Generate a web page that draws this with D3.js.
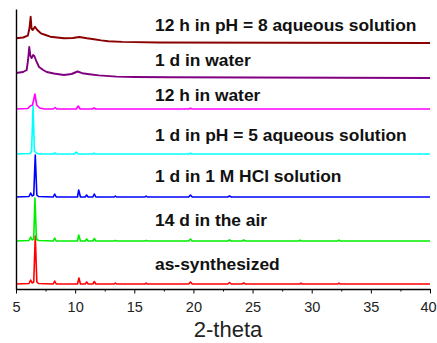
<!DOCTYPE html>
<html>
<head>
<meta charset="utf-8">
<script src="https://cdn.jsdelivr.net/npm/d3@7"></script>
<style>
  body { margin: 0; background: #fff; }
  svg { display: block; }
</style>
</head>
<body>
<svg id="chart" width="437" height="343"></svg>
<script>
// sample names, bottom to top
const sampleNames = [
  "as-synthesized",
  "14 d in the air",
  "1 d in 1 M HCl solution",
  "1 d in pH = 5 aqueous solution",
  "12 h in water",
  "1 d in water",
  "12 h in pH = 8 aqueous solution"
]

// stacking offset of each trace (intensity units)
const offsets = [5, 48, 92, 135, 180, 211, 246]

// [2-theta, intensity]
const asSynthesized = [[5,0],[6.1,0.5],[6.24,4],[6.36,1],[6.5,2],[6.63,48],[6.76,2],[6.9,0.5],[8.15,0],[8.27,3],[8.4,0],
  [10.2,0],[10.32,6],[10.45,0],[10.85,0],[10.97,2],[11.1,0],[11.5,0],[11.62,2.5],[11.75,0],[13.3,0],[13.4,1],[13.5,0],
  [15.9,0],[16,0.8],[16.1,0],[19.6,0],[19.75,2],[19.9,0],[22.9,0],[23.05,1.5],[23.2,0],[24.1,0],[24.25,1],[24.4,0],
  [29,0],[29.1,0.8],[29.2,0],[32.2,0],[32.3,1],[32.4,0],[40,0]]
const air14d = [[5,0],[6.1,0.5],[6.24,4],[6.36,1],[6.5,2],[6.6,43],[6.73,2],[6.9,0.5],[8.15,0],[8.27,3],[8.4,0],
  [10.2,0],[10.3,6],[10.45,0],[10.85,0],[10.97,2],[11.1,0],[11.5,0],[11.62,2.5],[11.75,0],[13.3,0],[13.4,0.6],[13.5,0],
  [15.9,0],[16,0.6],[16.1,0],[19.6,0],[19.75,2],[19.9,0],[22.9,0],[23.05,1.2],[23.2,0],[24.1,0],[24.25,1],[24.4,0],
  [28.9,0],[29,0.8],[29.1,0],[32.2,0],[32.3,1],[32.4,0],[40,0]]
const hcl1d = [[5,0],[6.1,0.5],[6.24,4],[6.36,1],[6.5,2],[6.63,42],[6.76,2],[6.9,0.5],[8.15,0],[8.27,3],[8.4,0],
  [10.2,0],[10.3,7],[10.45,0],[10.85,0],[10.97,2],[11.1,0],[11.5,0],[11.62,3],[11.75,0],[13.3,0],[13.4,1],[13.5,0],
  [15.9,0],[16,1],[16.1,0],[19.6,0],[19.75,2],[19.9,0],[22.9,0],[23.05,1],[23.2,0],[40,0]]
const ph5d1 = [[5,0],[6.2,0.5],[6.32,3],[6.44,48],[6.56,3],[6.75,0.8],[7,0],[8.15,0],[8.27,1],[8.4,0],
  [9.95,0],[10.1,2],[10.25,0],[11.5,0],[11.6,1],[11.7,0],[19.6,0],[19.75,0.8],[19.9,0],[40,0]]
const water12h = [[5,0],[6,0.5],[6.2,3],[6.4,4],[6.6,15],[6.75,4],[7,1],[7.4,0],[8.15,0],[8.3,1.5],[8.45,0],
  [10.1,0],[10.26,3],[10.42,0],[11.45,0],[11.6,1],[11.75,0],[19.6,0],[19.75,0.8],[19.9,0],[40,0]]
const water1d = [[5,5],[5.6,6],[5.9,8],[6.02,18],[6.12,31],[6.22,22],[6.32,20],[6.45,23],[6.55,22],[6.75,16],[6.95,11],
  [7.3,8],[7.6,6],[8.2,4.5],[9.05,3],[9.7,4],[10.2,6.5],[10.6,4.8],[11.2,3.8],[12,2.6],[13.5,1.4],[15,1],[18,0.8],[25,0.5],[40,0]]
const ph8h12 = [[5,4.7],[5.6,5.5],[6,7.3],[6.14,15],[6.24,26.3],[6.32,14],[6.42,13],[6.6,16.3],[6.8,13],[7.1,9.7],
  [7.5,8],[7.9,6.3],[9.05,4.7],[9.8,5],[10.35,6],[11,4.7],[11.6,3.7],[12.2,2.6],[12.8,1.8],[14,1.1],[17,0.5],[28,0.3],[40,0]]

const traces = [asSynthesized, air14d, hcl1d, ph5d1, water12h, water1d, ph8h12]
const xTicks = [5, 10, 15, 20, 25, 30, 35, 40]
const xMinorTicks = [7.5, 12.5, 17.5, 22.5, 27.5, 32.5, 37.5]

// layout / style
const colors = ["#ff0000", "#00ee00", "#0000ff", "#00ffff", "#ff00ff", "#800080", "#8b0000"]
const labelLift = [14, 15, 15, 13, 8, 12, 12]
const labelX = 155

const svg = d3.select("#chart")

const x = d3.scaleLinear().domain([5, 40]).range([16, 430])
const y = d3.scaleLinear().domain([0, 280]).range([289, 9])

const line = d3.line()
  .x(d => x(d[0]))
  .y(d => y(d[1]))

// traces
svg.append("g")
  .selectAll("path")
  .data(traces)
  .enter()
  .append("path")
  .attr("d", (d, i) => line(d.map(p => [p[0], p[1] + offsets[i]])))
  .attr("fill", "none")
  .attr("stroke", (d, i) => colors[i])
  .attr("stroke-width", (d, i) => i >= 5 ? 1.9 : 1.6)
  .attr("stroke-linejoin", "round")

// labels
svg.append("g")
  .selectAll("text")
  .data(sampleNames)
  .enter()
  .append("text")
  .attr("x", labelX)
  .attr("y", (d, i) => y(offsets[i]) - labelLift[i])
  .text(d => d)
  .style("font-family", "Liberation Sans, Arial, sans-serif")
  .style("font-weight", "bold")
  .style("font-size", "17.4px")
  .style("fill", "#111")

// minor ticks
svg.append("g")
  .attr("transform", "translate(0," + y(0) + ")")
  .call(d3.axisBottom(x).tickValues(xMinorTicks).tickSize(2.5).tickFormat(""))
  .call(g => g.select(".domain").remove())

// bottom axis
const xAxis = svg.append("g")
  .attr("transform", "translate(0," + y(0) + ")")
  .call(d3.axisBottom(x).tickValues(xTicks).tickSize(4.5).tickSizeOuter(0).tickPadding(8))
xAxis.select(".domain").attr("stroke-width", 1.4)
xAxis.selectAll("text")
  .style("font-family", "Liberation Sans, Arial, sans-serif")
  .style("font-size", "14.5px")
  .style("fill", "#222")
// keep the last label inside the window
xAxis.selectAll(".tick text").filter(d => d === 40).attr("dx", "-2")

// left axis line
svg.append("g")
  .attr("transform", "translate(" + x(5) + ",0)")
  .call(d3.axisLeft(y).tickValues([]).tickSizeOuter(0))
  .select(".domain").attr("stroke-width", 1.4)

// axis title
svg.append("text")
  .attr("x", 228)
  .attr("y", 337)
  .attr("text-anchor", "middle")
  .text("2-theta")
  .style("font-family", "Liberation Sans, Arial, sans-serif")
  .style("font-size", "22px")
  .style("fill", "#222")
</script>
</body>
</html>
